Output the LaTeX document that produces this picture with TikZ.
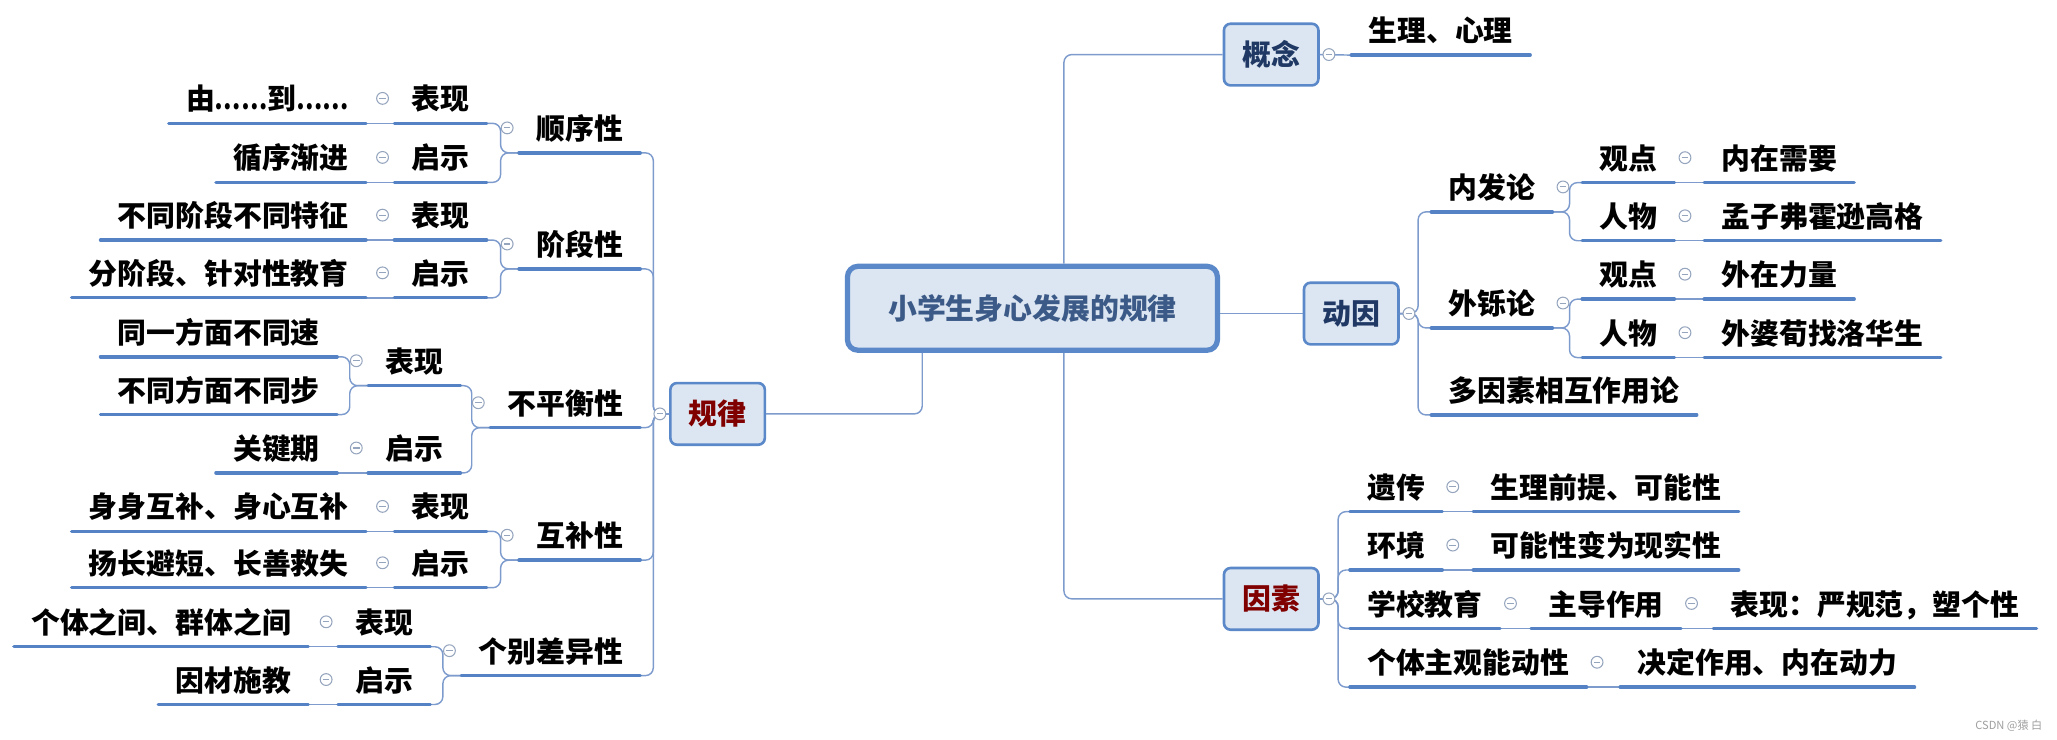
\documentclass[tikz,border=0pt]{standalone}
\usepackage{fontspec}
\usepackage{graphicx}
\newfontfamily\cjk{Noto Sans CJK SC}
\usetikzlibrary{calc}
\definecolor{ulc}{RGB}{84,130,196}
\definecolor{cnc}{RGB}{125,155,205}
\definecolor{bxc}{RGB}{90,136,200}
\definecolor{bxf}{RGB}{220,230,242}
\definecolor{clc}{RGB}{150,165,190}
\definecolor{navy}{RGB}{31,56,100}
\definecolor{dred}{RGB}{128,0,0}
\definecolor{cttext}{RGB}{60,90,135}
\newcommand{\ellip}{\resizebox{40pt}{\height}{……}}
\begin{document}
\begin{tikzpicture}[x=1pt,y=-1pt,
  base/.style={font=\cjk\bfseries\fontsize{22}{26}\selectfont, text=black, text height=17pt, text depth=4pt, inner ysep=6pt, inner xsep=13pt},
  lt/.style={base, anchor=south east},
  rt/.style={base, anchor=south west},
  uline/.style={draw=ulc, line width=2.6pt, line cap=round},
  conn/.style={draw=cnc, line width=1.1pt, rounded corners=6pt},
  topic/.style={draw=bxc, fill=bxf, line width=2pt, rounded corners=5pt, minimum width=72pt, minimum height=47pt, inner sep=0pt, font=\cjk\bfseries\fontsize{22}{26}\selectfont},
  central/.style={draw=bxc, fill=bxf, line width=4pt, rounded corners=8pt, minimum width=282pt, minimum height=64pt, inner sep=0pt, font=\cjk\bfseries\fontsize{22}{26}\selectfont, text=cttext},
  col/.style={circle, draw=clc, fill=white, line width=0.8pt, minimum size=9pt, inner sep=0pt,
    path picture={\draw[clc, line width=0.8pt] ([xshift=-2.5pt]path picture bounding box.center) -- ([xshift=2.5pt]path picture bounding box.center);}},
  wm/.style={font=\cjk\fontsize{8.5}{10}\selectfont, text=gray!75, anchor=east, inner sep=0pt}
]
\useasboundingbox (0,0) rectangle (1568,564);

% ---------- topics ----------
\node[central] (ct) at (787,235) {小学生身心发展的规律};
\node[topic, text=dred] (gl) at (547,315.5) {规律};
\node[topic, text=navy] (gn) at (969,41.6) {概念};
\node[topic, text=navy] (dy) at (1030,239) {动因};
\node[topic, text=dred] (ys) at (969,456.5) {因素};

% ---------- left: categories ----------
\node[lt] (c1) at (488,116.5) {顺序性};
\node[lt] (c2) at (488,205) {阶段性};
\node[lt] (c3) at (488,326) {不平衡性};
\node[lt] (c4) at (488,427) {互补性};
\node[lt] (c5) at (488,515) {个别差异性};

% ---------- left: middle ----------
\node[lt] (m11) at (371,94) {表现};
\node[lt] (m12) at (371,139) {启示};
\node[lt] (m21) at (371,183) {表现};
\node[lt] (m22) at (371,227) {启示};
\node[lt] (m31) at (351,294) {表现};
\node[lt] (m32) at (351,360.5) {启示};
\node[lt] (m41) at (371,405) {表现};
\node[lt] (m42) at (371,448) {启示};
\node[lt] (m51) at (328,493) {表现};
\node[lt] (m52) at (328,537) {启示};

% ---------- left: leaves ----------
\node[lt] (l11) at (279,94) {由\ellip 到\ellip};
\node[lt] (l12) at (279,139) {循序渐进};
\node[lt] (l21) at (279,183) {不同阶段不同特征};
\node[lt] (l22) at (279,227) {分阶段、针对性教育};
\node[lt] (l31) at (257,272) {同一方面不同速};
\node[lt] (l32) at (257,316) {不同方面不同步};
\node[lt] (l33) at (257,360.5) {关键期};
\node[lt] (l41) at (279,405) {身身互补、身心互补};
\node[lt] (l42) at (279,448) {扬长避短、长善救失};
\node[lt] (l51) at (235,493) {个体之间、群体之间};
\node[lt] (l52) at (235,537) {因材施教};

% ---------- right: concept ----------
\node[rt] (r0) at (1030,42) {生理、心理};

% ---------- right: motive ----------
\node[rt] (d1) at (1091,161.5) {内发论};
\node[rt] (d2) at (1091,250) {外铄论};
\node[rt] (d3) at (1091,316.3) {多因素相互作用论};
\node[rt] (d11) at (1206,139.2) {观点};
\node[rt] (d12) at (1206,183.5) {人物};
\node[rt] (d21) at (1206,228) {观点};
\node[rt] (d22) at (1206,272.6) {人物};
\node[rt] (d111) at (1299,139.2) {内在需要};
\node[rt] (d121) at (1299,183.5) {孟子弗霍逊高格};
\node[rt] (d211) at (1299,228) {外在力量};
\node[rt] (d221) at (1299,272.6) {外婆荀找洛华生};

% ---------- right: factors ----------
\node[rt] (y1) at (1029,390) {遗传};
\node[rt] (y2) at (1029,434.5) {环境};
\node[rt] (y3) at (1029,479) {学校教育};
\node[rt] (y4) at (1029,523.8) {个体主观能动性};
\node[rt] (y11) at (1123,390) {生理前提、可能性};
\node[rt] (y21) at (1123,434.5) {可能性变为现实性};
\node[rt] (y31) at (1167,479) {主导作用};
\node[rt, minimum width=246pt] (y311) at (1306,479) {表现：严规范，塑个性};
\node[rt] (y41) at (1235,523.8) {决定作用、内在动力};

% ---------- connectors: central ----------
\draw[conn] ([xshift=-84pt]ct.south) |- (gl.east);
\draw[conn] ([xshift=24pt]ct.north) |- (gn.west);
\draw[conn] ([xshift=24pt]ct.south) |- (ys.west);
\draw[conn] (ct.east |- dy.west) -- (dy.west);

% ---------- connectors: left ----------
\foreach \c in {c1,c2,c3,c4,c5}
  \draw[conn] (\c.south east) -| ([xshift=-12pt]gl.west) -- (gl.west);
\foreach \m/\c in {m11/c1,m12/c1,m21/c2,m22/c2,m31/c3,m32/c3,m41/c4,m42/c4,m51/c5,m52/c5}
  \draw[conn] (\m.south east) -| ([xshift=-14pt]\c.south west) -- (\c.south west);
\foreach \l/\m in {l11/m11,l12/m12,l21/m21,l22/m22,l33/m32,l41/m41,l42/m42,l51/m51,l52/m52}
  \draw[conn] (\l.south east) -- (\m.south west);
\foreach \l in {l31,l32}
  \draw[conn] (\l.south east) -| ([xshift=-14pt]m31.south west) -- (m31.south west);

% ---------- connectors: right ----------
\draw[conn] (gn.east) -- (r0.south west);
\foreach \d in {d1,d2,d3}
  \draw[conn] (\d.south west) -| ([xshift=14pt]dy.east) -- (dy.east);
\foreach \c/\p in {d11/d1,d12/d1,d21/d2,d22/d2}
  \draw[conn] (\c.south west) -| ([xshift=13pt]\p.south east) -- (\p.south east);
\foreach \a/\b in {d11/d111,d12/d121,d21/d211,d22/d221,y1/y11,y2/y21,y3/y31,y31/y311,y4/y41}
  \draw[conn] (\a.south east) -- (\b.south west);
\foreach \y in {y1,y2,y3,y4}
  \draw[conn] (\y.south west) -| ([xshift=14pt]ys.east) -- (ys.east);

% ---------- underlines ----------
\foreach \n in {c1,c2,c3,c4,c5,m11,m12,m21,m22,m31,m32,m41,m42,m51,m52,
                l11,l12,l21,l22,l31,l32,l33,l41,l42,l51,l52,
                r0,d1,d2,d3,d11,d12,d21,d22,d111,d121,d211,d221,
                y1,y2,y3,y4,y11,y21,y31,y311,y41}
  \draw[uline] (\n.south west) -- (\n.south east);

% ---------- collapse markers ----------
\foreach \n in {c1,c2,c3,c4,c5,m11,m12,m21,m22,m31,m32,m41,m42,m51,m52}
  \node[col] (k-\n) at ([xshift=-9pt,yshift=19pt]\n.south west) {};
\foreach \n in {d1,d2,d11,d12,d21,d22,y1,y2,y3,y31,y4}
  \node[col] (k-\n) at ([xshift=8pt,yshift=19pt]\n.south east) {};
\node[col] (k-gl) at ([xshift=-7pt]gl.west) {};
\node[col] (k-gn) at ([xshift=7pt]gn.east) {};
\node[col] (k-dy) at ([xshift=7pt]dy.east) {};
\node[col] (k-ys) at ([xshift=7pt]ys.east) {};

% ---------- watermark ----------
\node[wm] (wmark) at (1557,553) {CSDN @猿 白};
\end{tikzpicture}
\end{document}
